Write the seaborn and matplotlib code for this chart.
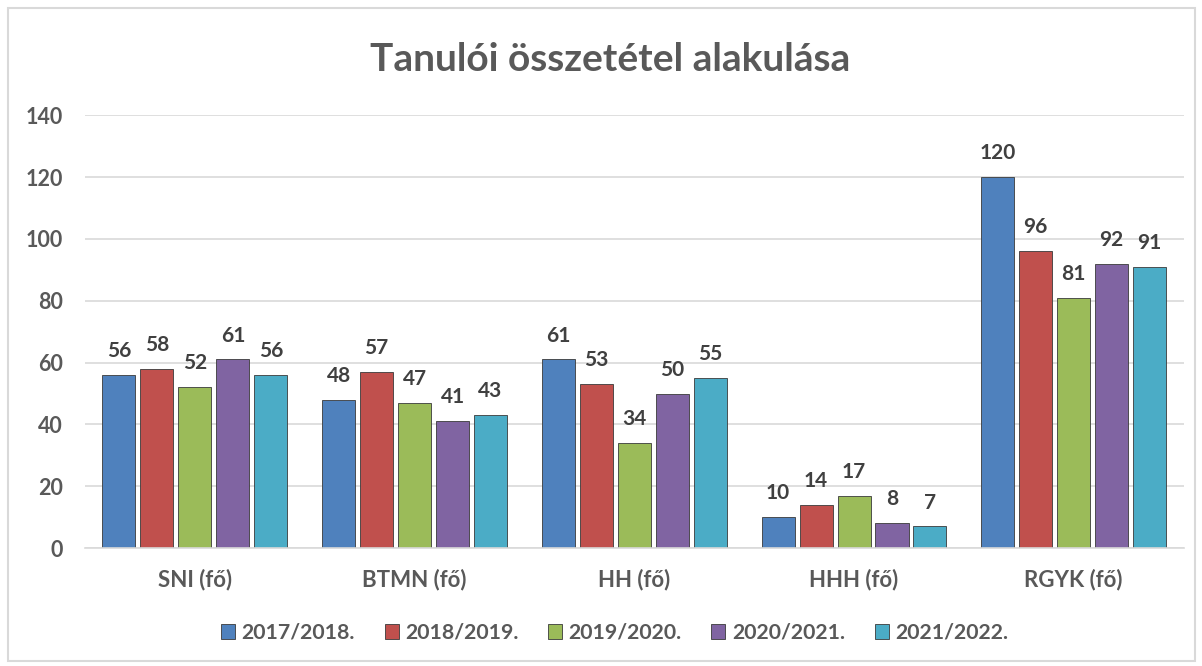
import pandas as pd
import matplotlib.pyplot as plt
import seaborn as sns
from matplotlib.patches import Rectangle

categories = ['SNI (fő)', 'BTMN (fő)', 'HH (fő)', 'HHH (fő)', 'RGYK (fő)']
years = ['2017/2018.', '2018/2019.', '2019/2020.', '2020/2021.', '2021/2022.']
v_2017 = [56, 48, 61, 10, 120]
v_2018 = [58, 57, 53, 14, 96]
v_2019 = [52, 47, 34, 17, 81]
v_2020 = [61, 41, 50, 8, 92]
v_2021 = [56, 43, 55, 7, 91]
palette = ['#4F81BD', '#C0504D', '#9BBB59', '#8064A2', '#4BACC6']

rows = []
for year, vals in zip(years, [v_2017, v_2018, v_2019, v_2020, v_2021]):
    for cat, v in zip(categories, vals):
        rows.append({'Kategória': cat, 'Év': year, 'Érték': v})
df = pd.DataFrame(rows)

sns.set_theme(style='white')
plt.rcParams['font.family'] = ['Lato', 'DejaVu Sans']
text_grey = '#595959'

fig = plt.figure(figsize=(12.02, 6.66), dpi=100)
ax = fig.add_axes([0.0707, 0.177, 0.914, 0.650])

sns.barplot(data=df, x='Kategória', y='Érték', hue='Év', palette=palette,
            width=0.864, gap=0.13, ax=ax, legend=True, saturation=1,
            edgecolor='#3a3a3a', linewidth=0.6)

for cont in ax.containers:
    ax.bar_label(cont, padding=10, fontsize=15, fontweight='bold', color='#404040')

ax.set_ylim(0, 140)
ax.set_xlim(-0.5, 4.5)
ax.set_yticks(range(0, 141, 20))
ax.yaxis.grid(True, color='#d9d9d9', linewidth=1.2)
ax.set_axisbelow(True)
for s in ['top', 'right', 'left']:
    ax.spines[s].set_visible(False)
ax.spines['bottom'].set_color('#d9d9d9')
ax.spines['bottom'].set_linewidth(1.2)
ax.tick_params(axis='y', length=0, pad=16, labelsize=15.5, labelcolor=text_grey)
ax.tick_params(axis='x', length=0, pad=15, labelsize=16, labelcolor=text_grey)
for lbl in ax.get_xticklabels() + ax.get_yticklabels():
    lbl.set_fontweight('bold')
ax.set_xlabel('')
ax.set_ylabel('')

fig.text(0.508, 0.91, 'Tanulói összetétel alakulása', ha='center', va='center',
         fontsize=28, fontweight='bold', color=text_grey)

leg = ax.legend(loc='center', bbox_to_anchor=(0.482, -0.196), ncol=5, frameon=False,
                handlelength=0.66, handleheight=0.66, handletextpad=0.3,
                columnspacing=1.4, prop={'size': 15.3, 'weight': 'bold'})
for t in leg.get_texts():
    t.set_color(text_grey)

fig.patches.append(Rectangle((0.007, 0.008), 0.987, 0.98, transform=fig.transFigure,
                             fill=False, edgecolor='#d9d9d9', linewidth=1.5))

fig.savefig('out.png', dpi=100)
